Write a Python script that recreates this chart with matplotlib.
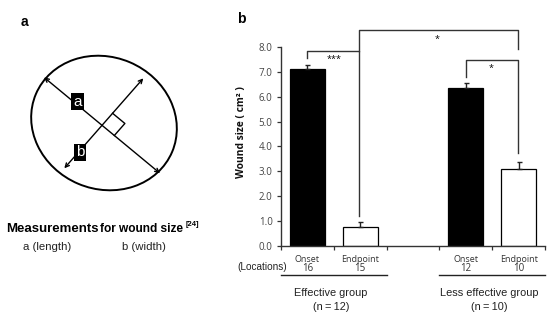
import numpy as np
import matplotlib
matplotlib.use("Agg")
import matplotlib.pyplot as plt
from matplotlib.patches import Ellipse
from matplotlib import transforms

# data for panel b
bar_pos = [0.5, 1.5, 3.5, 4.5]
phases = ["Onset", "Endpoint", "Onset", "Endpoint"]
locations = ["16", "15", "12", "10"]
wound_size = [7.10, 0.77, 6.35, 3.08]
wound_err = [0.16, 0.17, 0.20, 0.31]
bar_colors = ["black", "white", "black", "white"]
groups = ["Effective group\n(n\u2009=\u200912)", "Less effective group\n(n\u2009=\u200910)"]
group_span = [(0, 2), (3, 5)]
yticks = [0, 1, 2, 3, 4, 5, 6, 7, 8]

W, H = 556, 323
fig = plt.figure(figsize=(W / 100, H / 100), dpi=100)

# overlay in pixel coordinates (panel a + free text)
ov = fig.add_axes([0, 0, 1, 1])
ov.set_xlim(0, W)
ov.set_ylim(H, 0)
ov.axis("off")

# ---- panel a: measurement sketch ----
ov.add_patch(Ellipse((104, 123), 2 * 74, 2 * 66, angle=23, fill=False, lw=1.4, ec="black"))
c = np.array([102.0, 125.3])
a_end = [(44, 77.3), (160, 173.3)]
b_end = [(143.3, 78.3), (64.3, 168.3)]
arr = dict(arrowstyle="<->", lw=1.0, color="black", mutation_scale=7, shrinkA=0, shrinkB=0)
ov.annotate("", xy=a_end[1], xytext=a_end[0], arrowprops=arr)
ov.annotate("", xy=b_end[0], xytext=b_end[1], arrowprops=arr)
ua = np.subtract(a_end[1], a_end[0]); ua = ua / np.hypot(*ua)
ub = np.subtract(b_end[0], b_end[1]); ub = ub / np.hypot(*ub)
s = 16
sq = [c + s * ub, c + s * ub + s * ua, c + s * ua]
ov.plot([p[0] for p in sq], [p[1] for p in sq], color="black", lw=1.0)
box = dict(boxstyle="square,pad=0.12", fc="black", ec="none")
ov.text(77.5, 101.5, "a", color="white", fontsize=11, family="Liberation Sans",
        ha="center", va="center", bbox=box)
ov.text(80, 152.5, "b", color="white", fontsize=11, family="Liberation Sans",
        ha="center", va="center", bbox=box)

ov.text(24, 21.5, "a", fontsize=10, fontweight="bold", family="Liberation Sans", ha="center", va="center")
ov.text(241.5, 19, "b", fontsize=10, fontweight="bold", family="Liberation Sans", ha="center", va="center")

ov.text(6, 228.5, "Measurements", fontsize=9.5, fontweight="bold", family="Liberation Sans", va="center")
ov.text(100.5, 229.5, "for wound size", fontsize=8.6, fontweight="bold", family="Liberation Sans", va="center")
ov.text(186, 224.5, "[24]", fontsize=5.5, fontweight="bold", family="Liberation Sans", va="center")
ov.text(23.3, 246.7, "a (length)", fontsize=8.2, family="Liberation Sans", va="center", color="#222222")
ov.text(121.7, 246.7, "b (width)", fontsize=8.2, family="Liberation Sans", va="center", color="#222222")

# ---- panel b: bar chart ----
x0, x1, y0, y1 = 281, 545, 245.7, 47
ax = fig.add_axes([x0 / W, 1 - y0 / H, (x1 - x0) / W, (y0 - y1) / H])
ax.bar(bar_pos, wound_size, width=0.67, color=bar_colors, edgecolor="black", lw=0.9,
       yerr=[[0] * 4, wound_err], error_kw=dict(ecolor="#222222", elinewidth=1.0, capsize=1.8, capthick=1.0))
ax.set_xlim(0, 5)
ax.set_ylim(0, 8)
ax.set_yticks(yticks)
ax.set_yticklabels([f"{v:.1f}" for v in yticks], family="Open Sans", fontsize=7, color="#444444")
ax.set_xticks(range(6))
ax.set_xticklabels([])
for sp in ["top", "right"]:
    ax.spines[sp].set_visible(False)
for sp in ["left", "bottom"]:
    ax.spines[sp].set_color("#333333")
    ax.spines[sp].set_linewidth(1.0)
ax.tick_params(axis="y", direction="out", length=3, width=0.9, color="#333333", pad=3)
ax.tick_params(axis="x", direction="out", length=3, width=0.9, color="#333333")

# significance brackets
bk = dict(color="#333333", lw=1.0, clip_on=False)
ax.plot([0.5, 0.5, 1.48, 1.48], [7.57, 7.85, 7.85, 1.2], **bk)
ax.plot([1.48, 1.48, 4.49, 4.49], [7.85, 8.67, 8.67, 7.92], **bk)
ax.plot([3.5, 3.5, 4.49, 4.49], [6.81, 7.46, 7.46, 3.73], **bk)
ax.text(1.0, 7.5, "***", fontsize=6.5, ha="center", va="center", family="Open Sans")
ax.text(2.95, 8.3, "*", fontsize=6.5, ha="center", va="center", family="Open Sans", clip_on=False)
ax.text(3.97, 7.12, "*", fontsize=6.5, ha="center", va="center", family="Open Sans")

# labels under the axis (x in data, y in pixels)
tr = transforms.blended_transform_factory(ax.transData, ov.transData)
for xp, ph, loc in zip(bar_pos, phases, locations):
    ov.text(xp, 259, ph, transform=tr, fontsize=6.5, family="Open Sans", color="#333333",
            ha="center", va="center")
    ov.text(xp, 268.5, loc, transform=tr, fontsize=7, family="Open Sans", color="#333333",
            ha="center", va="center")
ov.text(262, 266.5, "(Locations)", fontsize=7.2, family="Liberation Sans", color="#222222",
        ha="center", va="center")
for (a, b), g in zip(group_span, groups):
    ov.plot([a, b], [275, 275], transform=tr, color="#222222", lw=1.0)
    ov.text((a + b) / 2 - 0.05, 300, g, transform=tr, fontsize=7.9, family="Liberation Sans",
            color="#222222", ha="center", va="center", linespacing=1.55)

ov.text(241.7, 132.5, "Wound size ( cm\u00b2 )", rotation=90, fontsize=7.4, fontweight="bold",
        family="Open Sans", ha="center", va="center", color="#111111")

fig.savefig("out.png", dpi=100)
